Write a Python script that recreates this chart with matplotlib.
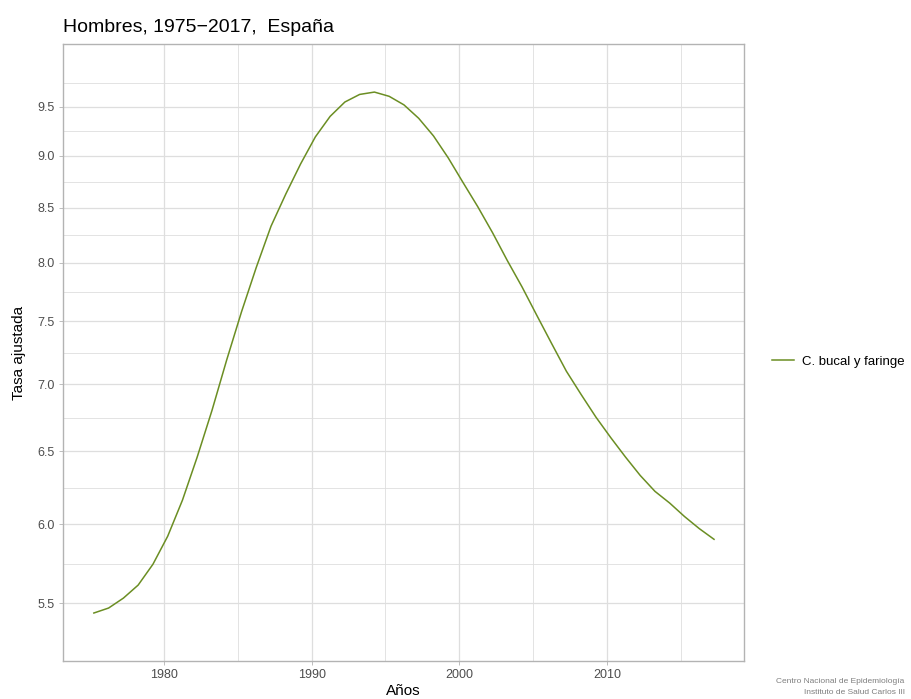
import numpy as np
import matplotlib
matplotlib.use("Agg")
import matplotlib.pyplot as plt
from matplotlib.ticker import FixedLocator, NullFormatter

plt.rcParams["font.family"] = ["Liberation Sans", "DejaVu Sans"]

# Data (curve points sit about a quarter year past each year)
years = [y + 0.25 for y in range(1975, 2018)]
tasa = [5.44, 5.47, 5.53, 5.61, 5.74, 5.92, 6.16, 6.46, 6.80, 7.19,
        7.58, 7.96, 8.33, 8.63, 8.92, 9.19, 9.40, 9.55, 9.63, 9.655,
        9.61, 9.52, 9.38, 9.20, 8.98, 8.74, 8.51, 8.27, 8.02, 7.79,
        7.55, 7.32, 7.10, 6.92, 6.75, 6.60, 6.46, 6.33, 6.22, 6.14,
        6.05, 5.97, 5.90]
serie = "C. bucal y faringe"

y_ticks = [5.5, 6.0, 6.5, 7.0, 7.5, 8.0, 8.5, 9.0, 9.5]
x_ticks = [1980, 1990, 2000, 2010]

grid_col = "#dedede"
text_col = "#4d4d4d"

fig = plt.figure(figsize=(9.11, 6.99), dpi=100)
ax = fig.add_axes([63 / 911, 38 / 699, 681 / 911, 617 / 699])

ax.plot(years, tasa, color="#6B8E23", linewidth=1.1, label=serie, zorder=3,
        solid_joinstyle="round")

ax.set_yscale("log")
ax.set_xlim(1973.16, 2019.28)
ax.set_ylim(5.16, 10.18)

# major and minor grid (minor breaks at midpoints, log space for y)
y_minor = [np.sqrt(a * b) for a, b in zip(y_ticks, y_ticks[1:] + [10.0])]
x_minor = [1985, 1995, 2005, 2015]

ax.yaxis.set_major_locator(FixedLocator(y_ticks))
ax.yaxis.set_minor_locator(FixedLocator(y_minor))
ax.yaxis.set_minor_formatter(NullFormatter())
ax.set_yticklabels([f"{v:.1f}" for v in y_ticks])
ax.xaxis.set_major_locator(FixedLocator(x_ticks))
ax.xaxis.set_minor_locator(FixedLocator(x_minor))

ax.grid(which="major", color=grid_col, linewidth=0.9)
ax.grid(which="minor", color=grid_col, linewidth=0.6)
ax.set_axisbelow(True)

ax.tick_params(which="major", length=3, width=0.6, color="#b3b3b3",
               labelcolor=text_col, labelsize=9, pad=3)
ax.tick_params(which="minor", length=0)

for s in ax.spines.values():
    s.set_color("#b3b3b3")
    s.set_linewidth(1.0)

ax.set_xlabel("Años", fontsize=11, labelpad=2)
ax.set_ylabel("Tasa ajustada", fontsize=11, labelpad=8)
ax.set_title("Hombres, 1975\u22122017,  España", loc="left", fontsize=14, pad=9)

ax.legend(loc="center left", bbox_to_anchor=(1.023, 0.485), frameon=False,
          fontsize=9.5, handlelength=1.7, handletextpad=0.6)

fig.text(0.993, 0.025, "Centro Nacional de Epidemiología", ha="right", va="center",
         fontsize=6, color="#7f7f7f")
fig.text(0.993, 0.009, "Instituto de Salud Carlos III", ha="right", va="center",
         fontsize=6, color="#7f7f7f")

fig.savefig("out.png", dpi=100)
